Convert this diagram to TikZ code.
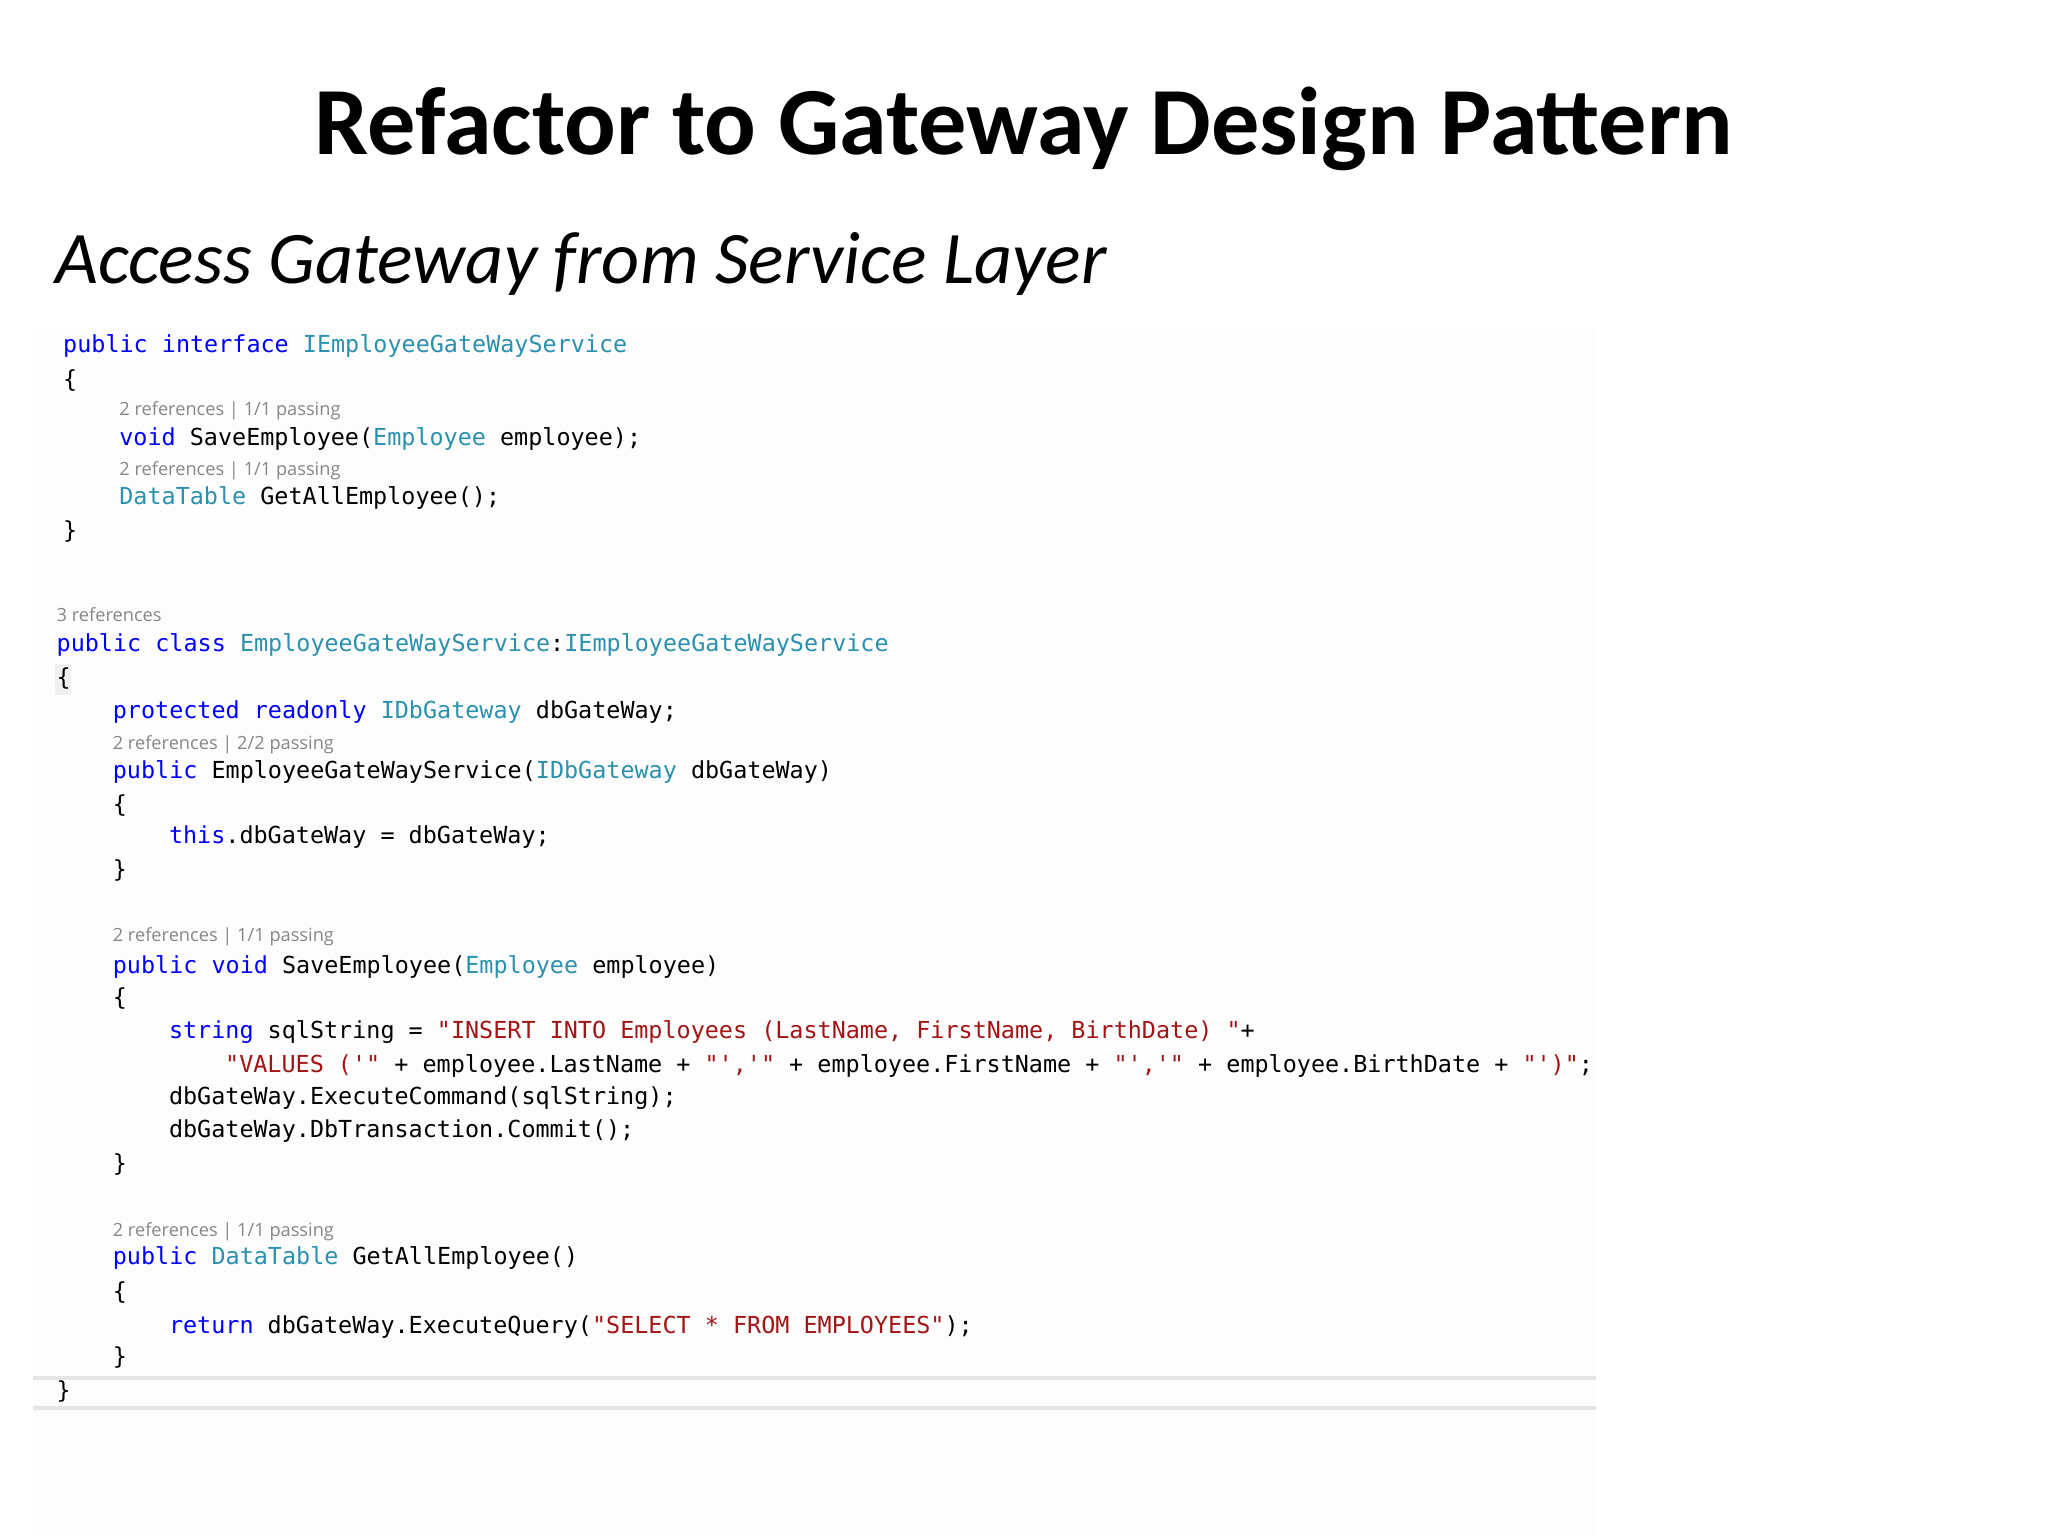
\documentclass[tikz,border=0pt]{standalone}
\usepackage{fontspec}
\setmainfont{Carlito}
\setmonofont{DejaVu Sans Mono}
\newfontfamily\reffont{Open Sans}
\definecolor{kw}{RGB}{0,0,255}
\definecolor{ty}{RGB}{43,145,175}
\definecolor{st}{RGB}{163,21,21}
\definecolor{rf}{RGB}{135,135,135}
\newcommand{\K}[1]{\textcolor{kw}{#1}}
\newcommand{\T}[1]{\textcolor{ty}{#1}}
\newcommand{\Sq}[1]{\textcolor{st}{#1}}
\begin{document}
\begin{tikzpicture}[x=0.5bp,y=-0.5bp,
  code/.style={anchor=base west,inner sep=0pt,font=\fontsize{9}{11}\selectfont\ttfamily},
  refs/.style={anchor=base west,inner sep=0pt,text=rf,font=\fontsize{7}{8}\selectfont\reffont}]
\useasboundingbox (0,0) rectangle (1568,1176);
\fill[white] (0,0) rectangle (1568,1176);
\fill[black!0.8] (25,250) rectangle (1222,1176);
\fill[black!6] (42,508) rectangle (54,532);
\node[anchor=base,inner sep=0pt,font=\fontsize{37}{42}\selectfont\bfseries] (title) at (784,118) {Refactor to Gateway Design Pattern};
\node[anchor=base west,inner sep=0pt,font=\fontsize{28.5}{33}\selectfont\itshape] (sub) at (42,217) {Access Gateway from Service Layer};
\node[code] (l1) at (48,270) {\K{public interface} \T{IEmployeeGateWayService}};
\node[code] (l2) at (48,297) {\{};
\node[refs] (r1) at (91,318) {2 references | 1/1 passing};
\node[code] (l3) at (91,341) {\K{void} SaveEmployee(\T{Employee} employee);};
\node[refs] (r2) at (91,364) {2 references | 1/1 passing};
\node[code] (l4) at (91,386) {\T{DataTable} GetAllEmployee();};
\node[code] (l5) at (48,412) {\}};
\node[refs] (r3) at (43,476) {3 references};
\node[code] (l6) at (43,499) {\K{public class} \T{EmployeeGateWayService}:\T{IEmployeeGateWayService}};
\node[code] (l7) at (43,525) {\{};
\node[code] (l8) at (86,550) {\K{protected readonly} \T{IDbGateway} dbGateWay;};
\node[refs] (r4) at (86,574) {2 references | 2/2 passing};
\node[code] (l9) at (86,596) {\K{public} EmployeeGateWayService(\T{IDbGateway} dbGateWay)};
\node[code] (l10) at (86,622) {\{};
\node[code] (l11) at (129,646) {\K{this}.dbGateWay = dbGateWay;};
\node[code] (l12) at (86,672) {\}};
\node[refs] (r5) at (86,721) {2 references | 1/1 passing};
\node[code] (l13) at (86,745) {\K{public void} SaveEmployee(\T{Employee} employee)};
\node[code] (l14) at (86,770) {\{};
\node[code] (l15) at (129,795) {\K{string} sqlString = \Sq{"INSERT INTO Employees (LastName, FirstName, BirthDate) "}+};
\node[code] (l16) at (172,821) {\Sq{"VALUES ('"} + employee.LastName + \Sq{"','"} + employee.FirstName + \Sq{"','"} + employee.BirthDate + \Sq{"')"};};
\node[code] (l17) at (129,846) {dbGateWay.ExecuteCommand(sqlString);};
\node[code] (l18) at (129,871) {dbGateWay.DbTransaction.Commit();};
\node[code] (l19) at (86,897) {\}};
\node[refs] (r6) at (86,947) {2 references | 1/1 passing};
\node[code] (l20) at (86,968) {\K{public} \T{DataTable} GetAllEmployee()};
\node[code] (l21) at (86,995) {\{};
\node[code] (l22) at (129,1021) {\K{return} dbGateWay.ExecuteQuery(\Sq{"SELECT * FROM EMPLOYEES"});};
\node[code] (l23) at (86,1045) {\}};
\node[code] (l24) at (43,1071) {\}};
\draw[black!10,line width=1.5] (25,1055) -- (1222,1055);
\draw[black!10,line width=1.5] (25,1078) -- (1222,1078);
\end{tikzpicture}
\end{document}
